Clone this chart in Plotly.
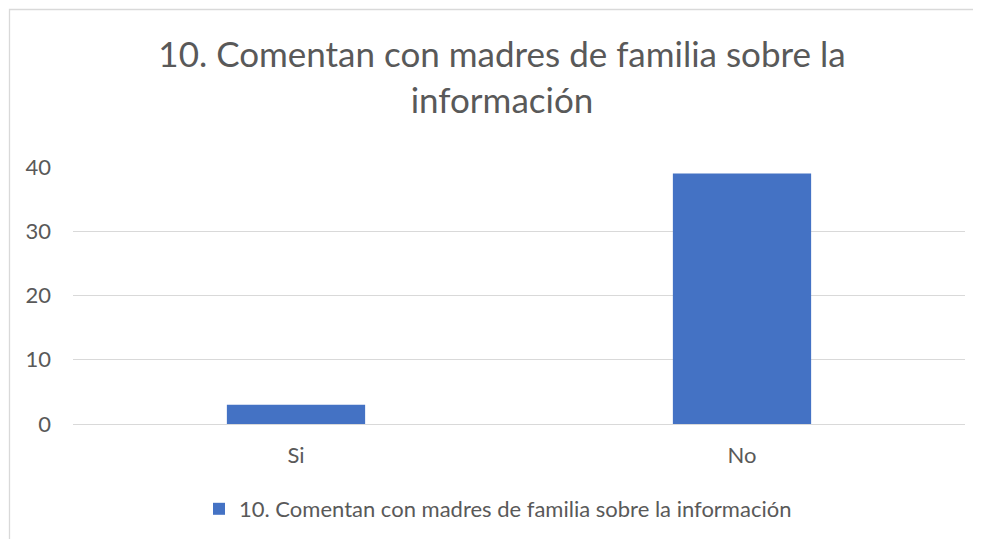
import plotly.graph_objects as go

categories = ["Si", "No"]
values = [3, 39]
series_name = "10. Comentan con madres de familia sobre la información"
title_text = "10. Comentan con madres de familia sobre la<br>información"
y_ticks = [0, 10, 20, 30, 40]

# page body has an 8px default margin, so figure coordinates are offset by 8px
W, H = 973, 531
ml, mr, mt, mb = 65, 16, 159, 115
pw, ph = W - ml - mr, H - mt - mb

font_family = "Lato, 'Open Sans', sans-serif"
text_color = "#595959"

fig = go.Figure()
fig.add_trace(go.Bar(
    x=categories, y=values, name=series_name,
    marker=dict(color="#4472C4", line=dict(width=0)),
    showlegend=True,
))

fig.update_layout(
    width=W, height=H,
    margin=dict(l=ml, r=mr, t=mt, b=mb),
    paper_bgcolor="white", plot_bgcolor="white",
    font=dict(family=font_family, color=text_color, size=22),
    bargap=0.69,
    title=dict(
        text=title_text, x=494 / W, xanchor="center", xref="container",
        y=1 - 59 / H, yanchor="middle", yref="container",
        font=dict(size=35, color=text_color, family=font_family),
    ),
    xaxis=dict(
        showgrid=False, showline=False, ticks="", zeroline=False,
        tickfont=dict(size=22, color=text_color),
        ticklabelstandoff=16,
    ),
    yaxis=dict(
        range=[0, 40], tickvals=y_ticks, showgrid=True, gridcolor="#d9d9d9",
        gridwidth=1, zeroline=True, zerolinecolor="#d9d9d9", zerolinewidth=1,
        showline=False, ticks="", tickfont=dict(size=22, color=text_color),
        ticklabelstandoff=21,
    ),
    legend=dict(
        orientation="h", x=490 / W, xanchor="center", xref="container",
        y=1 - 501 / H, yanchor="middle", yref="container",
        font=dict(size=22, color=text_color), itemwidth=30,
    ),
    shapes=[dict(
        type="rect", xref="paper", yref="paper",
        x0=(1.5 - ml) / pw, x1=(W + 20 - ml) / pw,
        y0=-(mb + 40) / ph, y1=1 + (mt - 1.5) / ph,
        line=dict(color="#d9d9d9", width=1.3), fillcolor="rgba(0,0,0,0)",
        layer="below",
    )],
)

fig.write_html("out.html")
